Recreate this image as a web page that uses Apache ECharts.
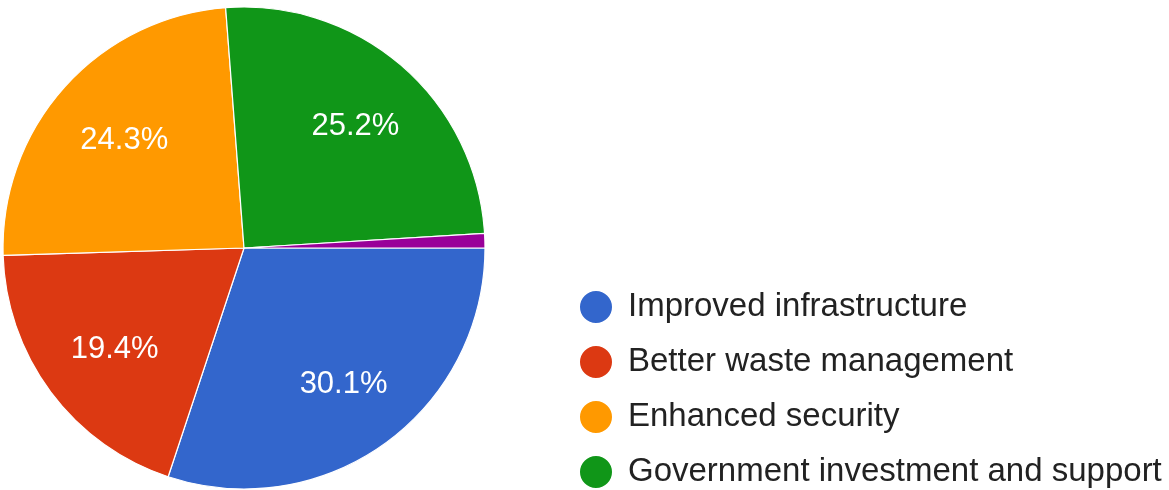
<!DOCTYPE html>
<html>
<head>
<meta charset="utf-8">
<style>
  html, body { margin: 0; padding: 0; background: #ffffff; }
  #chart { width: 1169px; height: 490px; }
</style>
<script src="https://cdn.jsdelivr.net/npm/echarts@6/dist/echarts.min.js"></script>
</head>
<body>
<div id="chart"></div>
<script>
// Survey responses (counts) per suggested improvement
const categories = [
  'Improved infrastructure',
  'Better waste management',
  'Enhanced security',
  'Government investment and support',
  'Other'
];
const responses = [31, 20, 25, 26, 1];
const legendItems = categories.slice(0, 4);
const palette = ['#3366cc', '#dc3912', '#ff9900', '#109618', '#990099'];

const total = responses.reduce((a, b) => a + b, 0);
const pieData = categories.map((name, i) => ({ name, value: responses[i] }));

const center = [244, 248];
const outerR = 241;
const font = '"Liberation Sans", Arial, sans-serif';

const chart = echarts.init(document.getElementById('chart'), null, { renderer: 'canvas' });
chart.setOption({
  color: palette,
  animation: false,
  legend: {
    data: legendItems,
    orient: 'vertical',
    left: 578,
    top: 289,
    height: 400,
    padding: 0,
    icon: 'circle',
    itemWidth: 34,
    itemHeight: 34,
    itemGap: 19,
    selectedMode: false,
    textStyle: {
      fontFamily: font,
      fontSize: 33,
      lineHeight: 34,
      color: '#222222',
      padding: [0, 0, 0, 10]
    }
  },
  series: [
    {
      type: 'pie',
      center: center,
      radius: [0, outerR],
      startAngle: 0,
      clockwise: true,
      silent: true,
      data: pieData,
      itemStyle: { borderColor: '#ffffff', borderWidth: 1.2 },
      label: { show: false },
      labelLine: { show: false }
    },
    {
      // transparent ring that places the percentage labels
      type: 'pie',
      center: center,
      radius: [83, outerR],
      startAngle: 0,
      clockwise: true,
      silent: true,
      data: pieData,
      legendHoverLink: false,
      itemStyle: { color: 'rgba(0,0,0,0)', borderWidth: 0 },
      minShowLabelAngle: 10,
      label: {
        show: true,
        position: 'inner',
        offset: [3, 3],
        formatter: p => (p.value / total * 100).toFixed(1) + '%',
        color: '#ffffff',
        fontFamily: font,
        fontSize: 31
      },
      labelLine: { show: false }
    }
  ]
});
</script>
</body>
</html>
